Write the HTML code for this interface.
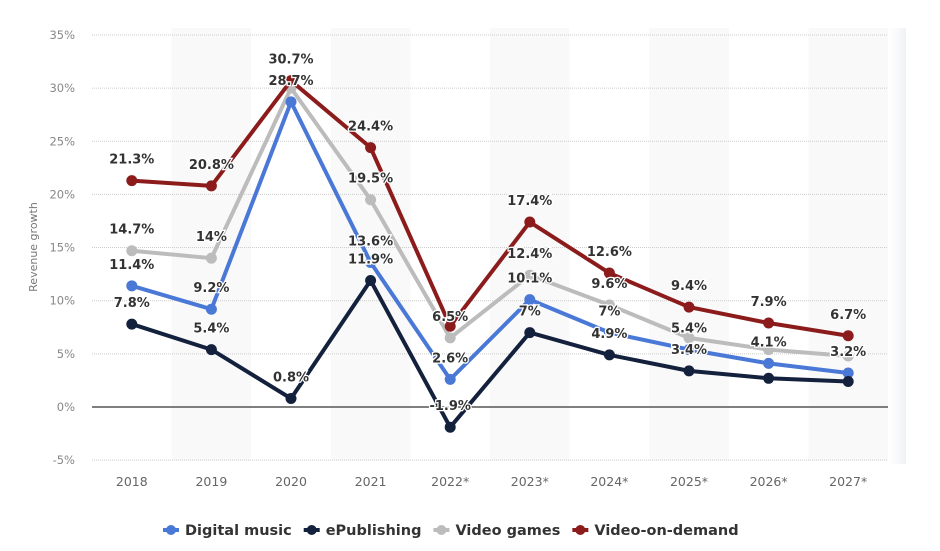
<!DOCTYPE html>
<html><head><meta charset="utf-8"><style>
body{margin:0;background:#fff;font-family:"Liberation Sans",sans-serif}
svg text{font-family:"DejaVu Sans","Liberation Sans",sans-serif}
</style></head><body>
<svg id="chart" width="940" height="546" xmlns="http://www.w3.org/2000/svg">
<defs><linearGradient id="fade" x1="0" x2="1"><stop offset="0" stop-color="#f3f5f8" stop-opacity="0"/><stop offset="1" stop-color="#eef1f5"/></linearGradient></defs>
<rect x="888" y="28" width="18" height="436" fill="url(#fade)"/>
<g id="bands"></g><g id="grid"></g><g id="series"></g><g id="labels"></g>
<text transform="translate(37,247) rotate(-90)" text-anchor="middle" font-size="11" fill="#777">Revenue growth</text>
<g id="legend"></g>
</svg>
<script>
const categories=["2018","2019","2020","2021","2022*","2023*","2024*","2025*","2026*","2027*"];
const yTicks=[-5,0,5,10,15,20,25,30,35];
const seriesNames=["Video games","Digital music","ePublishing","Video-on-demand"];
const videoGames=[14.7,14,30,19.5,6.5,12.4,9.6,6.5,5.4,4.8];
const digitalMusic=[11.4,9.2,28.7,13.6,2.6,10.1,7,5.4,4.1,3.2];
const ePublishing=[7.8,5.4,0.8,11.9,-1.9,7,4.9,3.4,2.7,2.4];
const videoOnDemand=[21.3,20.8,30.7,24.4,7.6,17.4,12.6,9.4,7.9,6.7];
const vgLabels=["14.7%","14%","","19.5%","6.5%","12.4%","9.6%","","",""];
const dmLabels=["11.4%","9.2%","28.7%","13.6%","2.6%","10.1%","7%","5.4%","4.1%","3.2%"];
const epLabels=["7.8%","5.4%","0.8%","11.9%","-1.9%","7%","4.9%","3.4%","",""];
const vodLabels=["21.3%","20.8%","30.7%","24.4%","","17.4%","12.6%","9.4%","7.9%","6.7%"];
const legendOrder=["Digital music","ePublishing","Video games","Video-on-demand"];
const colors={"Video games":"#bcbcbc","Digital music":"#4a78d6","ePublishing":"#14213d","Video-on-demand":"#8c1c1c"};
const ns="http://www.w3.org/2000/svg";
const x0=92,x1=888,y0=407,perUnit=10.63;
const step=(x1-x0)/categories.length;
const xS=i=>x0+step*(i+0.5);
const yS=v=>y0-v*perUnit;
function mk(parent,tag,attrs){const e=document.createElementNS(ns,tag);for(const k in attrs)e.setAttribute(k,attrs[k]);document.getElementById(parent).appendChild(e);return e;}
categories.forEach((c,i)=>{
  if(i%2==1){const r=mk("bands","rect",{x:x0+step*i,y:28,width:step,height:yS(-5)-28,fill:"#f9f9f9"});
  
  }
  const t=mk("grid","text",{x:xS(i),y:486,"text-anchor":"middle","font-size":"12.5",fill:"#666"});t.textContent=c;
  
  
});
yTicks.forEach(v=>{
  const l=mk("grid","line",{x1:x0,x2:x1,y1:yS(v),y2:yS(v),stroke:v===0?"#555":"#ccc","stroke-width":v===0?1.5:1,"stroke-dasharray":v===0?"":"1,1"});
  
  
  const t=mk("grid","text",{x:75,y:yS(v)+4,"text-anchor":"end","font-size":"11.5",fill:"#888"});t.textContent=v+"%";
  
  
});
const data={"Video games":[videoGames,vgLabels],"Digital music":[digitalMusic,dmLabels],"ePublishing":[ePublishing,epLabels],"Video-on-demand":[videoOnDemand,vodLabels]};
seriesNames.forEach(n=>{
  const [vals,labs]=data[n];
  const p=mk("series","polyline",{points:vals.map((v,i)=>xS(i)+","+yS(v)).join(" "),fill:"none",stroke:colors[n],"stroke-width":4,"stroke-linejoin":"round"});
  
  
  vals.forEach((v,i)=>{
    const c=mk("series","circle",{cx:xS(i),cy:yS(v),r:5.5,fill:colors[n]});
    
    
    if(labs[i]){
      const t=mk("labels","text",{x:xS(i),y:yS(v)-17,"text-anchor":"middle","font-size":"13","font-weight":"bold",fill:"#333",stroke:"#fff","stroke-width":2.5,"paint-order":"stroke"});
      t.textContent=labs[i];
      
      
    }
  });
});
let lx=163;
legendOrder.forEach(n=>{
  const l=mk("legend","line",{x1:lx,x2:lx+16,y1:530,y2:530,stroke:colors[n],"stroke-width":4});
  
  
  const c=mk("legend","circle",{cx:lx+8,cy:530,r:5,fill:colors[n]});
  
  
  const t=mk("legend","text",{x:lx+22,y:535,"font-size":"14.5","font-weight":"bold",fill:"#333"});
  t.textContent=n;
  
  
  lx+=22+t.getComputedTextLength()+12;
});
</script>
</body></html>
